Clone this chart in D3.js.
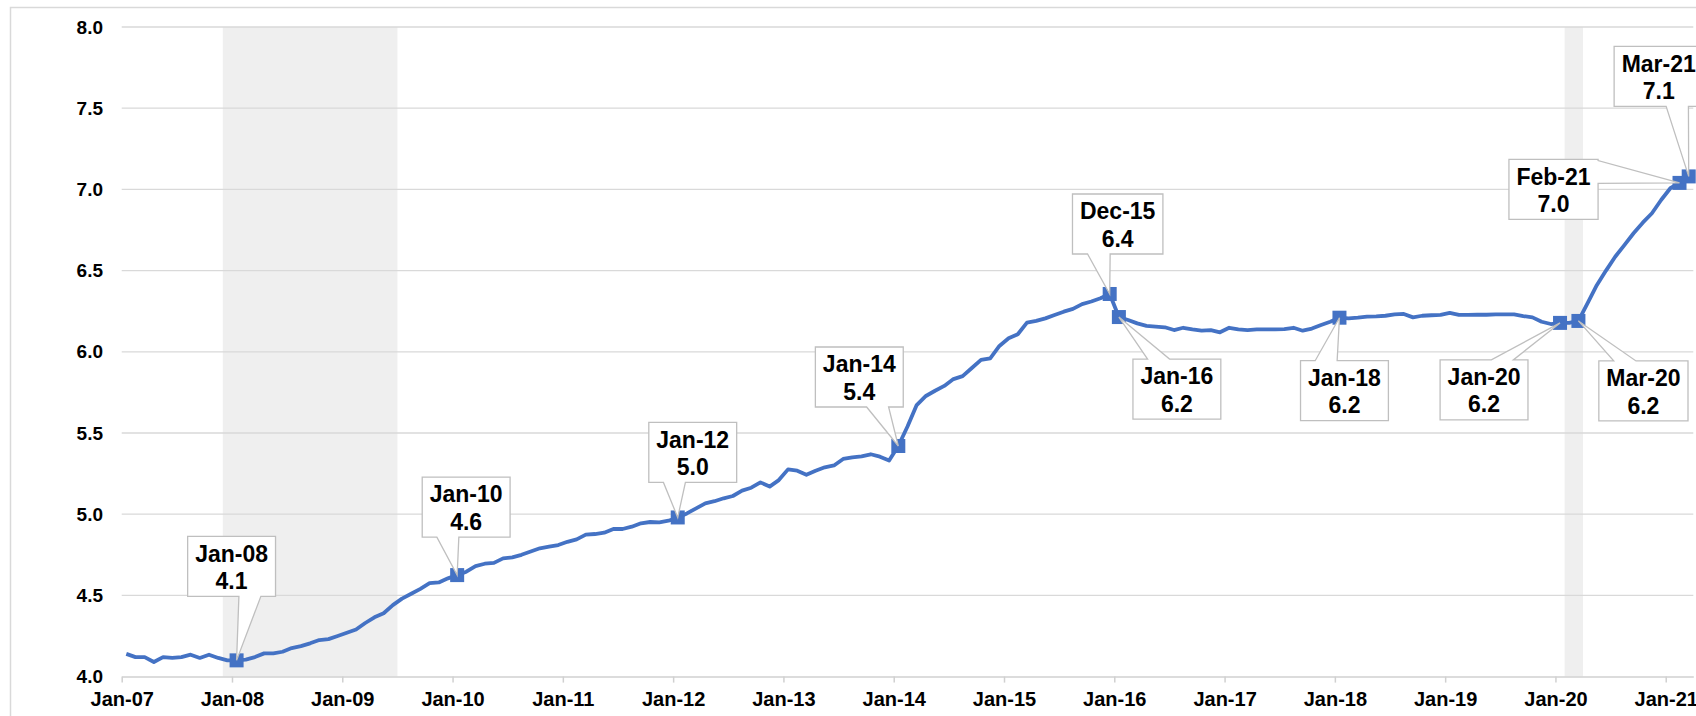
<!DOCTYPE html>
<html>
<head>
<meta charset="utf-8">
<script src="https://d3js.org/d3.v7.min.js"></script>
<style>
body { margin: 0; background: #fff; }
svg { display: block; font-family: "Liberation Sans", Arial, sans-serif; }
</style>
</head>
<body>
<div id="chart"></div>
<script>
/*
Data - monthly series from Jan-07 to Mar-21
 */
var startMonth = "2007-01";

var values = [
    4.14, 4.12, 4.12, 4.09, 4.12, 4.115, 4.12, 4.135, 4.115, 4.135, 4.115, 4.10,
    4.10, 4.105, 4.12, 4.143, 4.143, 4.153, 4.176, 4.188, 4.205, 4.225, 4.231, 4.25,
    4.27, 4.29, 4.33, 4.365, 4.39, 4.44, 4.48, 4.51, 4.54, 4.575, 4.58, 4.605,
    4.625, 4.646, 4.68, 4.695, 4.70, 4.728, 4.734, 4.75, 4.77, 4.79, 4.80, 4.81,
    4.83, 4.845, 4.874, 4.878, 4.886, 4.909, 4.909, 4.923, 4.944, 4.952, 4.95, 4.96,
    4.98, 5.005, 5.036, 5.067, 5.08, 5.098, 5.112, 5.145, 5.163, 5.196, 5.17, 5.21,
    5.276, 5.268, 5.243, 5.268, 5.289, 5.30, 5.34, 5.35, 5.356, 5.369, 5.354, 5.33,
    5.42, 5.54, 5.672, 5.728, 5.76, 5.79, 5.832, 5.85, 5.90, 5.95, 5.96, 6.036,
    6.083, 6.108, 6.18, 6.19, 6.206, 6.227, 6.247, 6.264, 6.294, 6.31, 6.33, 6.356,
    6.214, 6.196, 6.175, 6.16, 6.155, 6.151, 6.134, 6.148, 6.138, 6.13, 6.134, 6.12,
    6.148, 6.138, 6.134, 6.138, 6.138, 6.138, 6.14, 6.148, 6.13, 6.143, 6.165, 6.185,
    6.21, 6.206, 6.21, 6.216, 6.218, 6.222, 6.23, 6.233, 6.212, 6.222, 6.225, 6.227,
    6.24, 6.227, 6.227, 6.228, 6.228, 6.23, 6.23, 6.23, 6.22, 6.212, 6.185, 6.171,
    6.178, 6.178, 6.19, 6.30, 6.41, 6.50, 6.585, 6.657, 6.73, 6.795, 6.853, 6.935,
    7.007, 7.04, 7.08
];

var yTicks = [4.0, 4.5, 5.0, 5.5, 6.0, 6.5, 7.0, 7.5, 8.0];

var xTickLabels = ["Jan-07", "Jan-08", "Jan-09", "Jan-10", "Jan-11", "Jan-12", "Jan-13",
    "Jan-14", "Jan-15", "Jan-16", "Jan-17", "Jan-18", "Jan-19", "Jan-20", "Jan-21"];

// months that get a marker and a callout
var calloutMonths = ["Jan-08", "Jan-10", "Jan-12", "Jan-14", "Dec-15", "Jan-16",
    "Jan-18", "Jan-20", "Mar-20", "Feb-21", "Mar-21"];

// shaded periods (first month, last month)
var recessions = [["Dec-07", "Jun-09"], ["Feb-20", "Mar-20"]];

/*
Layout
 */
var width = 1696, height = 716;
var plotLeft = 121.7, plotRight = 1693.3, plotTop = 27, plotBottom = 676.6;

// where each callout box sits relative to its point
var calloutOffsets = {
    "Jan-08": [-5, -94], "Jan-10": [9, -68], "Jan-12": [15, -65], "Jan-14": [-39, -69],
    "Dec-15": [8, -70], "Jan-16": [58, 72], "Jan-18": [5, 73], "Jan-20": [-76, 67],
    "Mar-20": [65, 70], "Feb-21": [-126, 6.5], "Mar-21": [-30, -100]
};

var parseMonth = d3.timeParse("%Y-%m");
var fmtMonth = d3.timeFormat("%b-%y");
var months = values.map(function(v, i) {
    return fmtMonth(d3.timeMonth.offset(parseMonth(startMonth), i));
});

var x = d3.scaleLinear().domain([0, values.length]).range([plotLeft, plotRight]);
var y = d3.scaleLinear().domain([4, 8]).range([plotBottom, plotTop]);

var svg = d3.select("#chart")
    .append("svg")
    .attr("width", width)
    .attr("height", height);

svg.append("rect")
    .attr("width", width)
    .attr("height", height)
    .style("fill", "white");

// chart border (cropped at right and bottom)
svg.append("rect")
    .attr("x", 10.5).attr("y", 7.5)
    .attr("width", 1800).attr("height", 800)
    .style("fill", "none")
    .style("stroke", "#d9d9d9")
    .style("stroke-width", 1.5);

// recession shading
svg.selectAll(".shade")
    .data(recessions)
    .enter()
    .append("rect")
    .attr("class", "shade")
    .attr("x", function(d) { return x(months.indexOf(d[0])); })
    .attr("width", function(d) { return x(months.indexOf(d[1]) + 1) - x(months.indexOf(d[0])); })
    .attr("y", plotTop)
    .attr("height", plotBottom - plotTop)
    .style("fill", "#efefef");

// gridlines
svg.selectAll(".grid")
    .data(yTicks.slice(1))
    .enter()
    .append("line")
    .attr("class", "grid")
    .attr("x1", plotLeft).attr("x2", plotRight)
    .attr("y1", function(d) { return y(d); })
    .attr("y2", function(d) { return y(d); })
    .style("stroke", "#d9d9d9")
    .style("stroke-width", 1.3);

// y axis labels
var yAxis = svg.append("g")
    .attr("transform", "translate(" + plotLeft + ",0)")
    .call(d3.axisLeft(y).tickValues(yTicks).tickFormat(d3.format(".1f")).tickSize(0).tickPadding(18.7));
yAxis.select(".domain").remove();
yAxis.selectAll("text")
    .style("font-size", "19px")
    .style("font-weight", "bold")
    .style("fill", "#000");

// x axis
var tickIdx = xTickLabels.map(function(l) { return months.indexOf(l); });
var xAxis = svg.append("g")
    .attr("transform", "translate(0," + plotBottom + ")")
    .call(d3.axisBottom(x).tickValues(tickIdx)
        .tickFormat(function(i) { return months[i]; })
        .tickSizeInner(6).tickSizeOuter(0));
xAxis.select(".domain").style("stroke", "#d0d0d0").style("stroke-width", 1.5);
xAxis.selectAll(".tick line").style("stroke", "#d0d0d0").style("stroke-width", 1.5);
xAxis.selectAll("text")
    .attr("y", 15)
    .style("font-size", "20px")
    .style("font-weight", "bold")
    .style("fill", "#000");

// the series line
var line = d3.line()
    .x(function(d, i) { return x(i + 0.5); })
    .y(function(d) { return y(d); });

svg.append("path")
    .datum(values)
    .attr("d", line)
    .style("fill", "none")
    .style("stroke", "#4472c4")
    .style("stroke-width", 3.8)
    .style("stroke-linejoin", "round");

// markers
var calloutData = calloutMonths.map(function(m) {
    var i = months.indexOf(m);
    return { month: m, value: values[i], tx: x(i + 0.5), ty: y(values[i]) };
});

var markSize = 14;
svg.selectAll(".marker")
    .data(calloutData)
    .enter()
    .append("rect")
    .attr("class", "marker")
    .attr("x", function(d) { return d.tx - markSize / 2; })
    .attr("y", function(d) { return d.ty - markSize / 2; })
    .attr("width", markSize)
    .attr("height", markSize)
    .style("fill", "#4472c4");

// callout box with a wedge pointing at (tx, ty)
function calloutPath(cx, cy, w, h, tx, ty) {
    var x0 = cx - w / 2, x1 = cx + w / 2, y0 = cy - h / 2, y1 = cy + h / 2;
    var p, s, a, b, lo, hi;
    if (Math.abs((ty - cy) / h) >= Math.abs((tx - cx) / w)) {
        s = tx < cx ? -1 : 1;
        a = cx + s * w / 12; b = cx + s * w / 3;
        lo = Math.min(a, b); hi = Math.max(a, b);
        if (ty > cy) {
            p = [[x0, y0], [x1, y0], [x1, y1], [hi, y1], [tx, ty], [lo, y1], [x0, y1]];
        } else {
            p = [[x0, y0], [lo, y0], [tx, ty], [hi, y0], [x1, y0], [x1, y1], [x0, y1]];
        }
    } else {
        s = ty < cy ? -1 : 1;
        a = cy + s * h / 10; b = cy + s * h * 0.48;
        lo = Math.min(a, b); hi = Math.max(a, b);
        if (tx > cx) {
            p = [[x0, y0], [x1, y0], [x1, lo], [tx, ty], [x1, hi], [x1, y1], [x0, y1]];
        } else {
            p = [[x0, y0], [x1, y0], [x1, y1], [x0, y1], [x0, hi], [tx, ty], [x0, lo]];
        }
    }
    return "M" + p.join("L") + "Z";
}

var boxH = 60;
var callouts = svg.selectAll(".callout")
    .data(calloutData)
    .enter()
    .append("g")
    .attr("class", "callout");

callouts.each(function(d) {
    var g = d3.select(this);
    var off = calloutOffsets[d.month];
    var cx = d.tx + off[0], cy = d.ty + off[1];
    var top = cy - boxH / 2;

    var shape = g.append("path")
        .style("fill", "white")
        .style("stroke", "#bfbfbf")
        .style("stroke-width", 1.3);

    var t1 = g.append("text")
        .attr("x", cx).attr("y", top + 25.3)
        .text(d.month);
    var t2 = g.append("text")
        .attr("x", cx).attr("y", top + 52.6)
        .text(d.value.toFixed(1));

    g.selectAll("text")
        .attr("text-anchor", "middle")
        .style("font-size", "23px")
        .style("font-weight", "bold")
        .style("fill", "#000");

    var w = Math.max(t1.node().getComputedTextLength(), t2.node().getComputedTextLength()) + 15;
    shape.attr("d", calloutPath(cx, cy, w, boxH, d.tx, d.ty));
});
</script>
</body>
</html>
